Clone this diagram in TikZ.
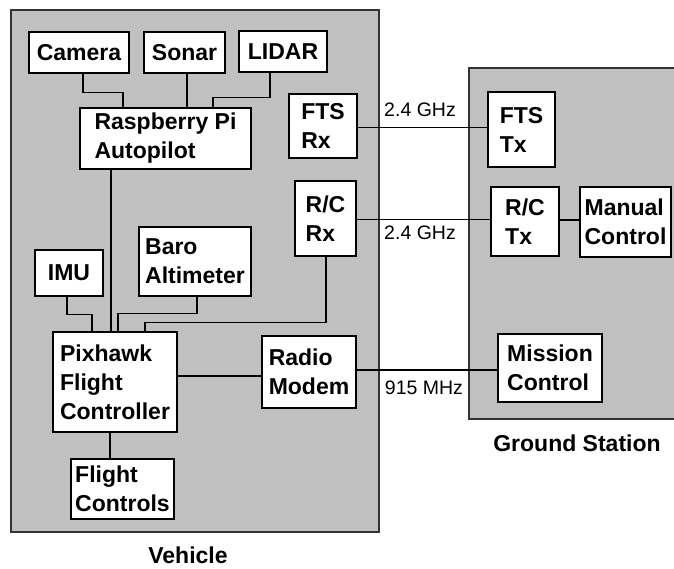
\documentclass[tikz,border=0pt]{standalone}
\usepackage{fontspec}
\setmainfont{Liberation Sans}
\definecolor{panelgray}{RGB}{192,192,192}
\begin{document}
\begin{tikzpicture}[x=1pt,y=-1pt,
  box/.style={draw=black,line width=1.2pt,fill=white,inner sep=0pt,align=left,
    font=\bfseries\fontsize{23}{29}\selectfont},
  panel/.style={draw=black!80,line width=1.2pt,fill=panelgray},
  wire/.style={draw=black,line width=1.1pt},
  freq/.style={font=\fontsize{19.5}{22}\selectfont,inner sep=0pt},
  title/.style={font=\bfseries\fontsize{23}{27}\selectfont,inner sep=0pt}]
\useasboundingbox (0,0) rectangle (674,568);
\begin{scope}
\clip (0,0) rectangle (674,568);
\path[panel] (11,10) rectangle (379,532);
\path[panel] (469,68) rectangle (690,419);
\end{scope}
\node[title] (vehl) at (188,555.5) {Vehicle};
\node[title] (gsl) at (577,443) {Ground Station};

\node[box,minimum width=100pt,minimum height=41pt] (cam) at (79,52.5) {Camera};
\node[box,minimum width=81pt,minimum height=41pt] (sonar) at (184.5,52.5) {Sonar};
\node[box,minimum width=88pt,minimum height=41pt] (lidar) at (283,51.5) {LIDAR};
\node[box,minimum width=171pt,minimum height=61pt] (rpi) at (165.5,138.5) {Raspberry Pi\\Autopilot};
\node[box,minimum width=68pt,minimum height=64pt] (ftsrx) at (323,126) {FTS\\Rx};
\node[box,minimum width=61pt,minimum height=75pt] (rcrx) at (325.5,218.5) {R/C\\Rx};
\node[box,minimum width=112pt,minimum height=69pt] (baro) at (195,261.5) {Baro\\Altimeter};
\node[box,minimum width=68pt,minimum height=46pt] (imu) at (69,273) {IMU};
\node[box,minimum width=124pt,minimum height=100pt] (pix) at (115,382) {Pixhawk\\Flight\\Controller};
\node[box,minimum width=94pt,minimum height=72pt] (modem) at (309,372) {Radio\\Modem};
\node[box,minimum width=103pt,minimum height=60pt] (fc) at (122.5,489) {Flight\\Controls};
\node[box,minimum width=67pt,minimum height=75pt] (ftstx) at (521.5,129.5) {FTS\\Tx};
\node[box,minimum width=68pt,minimum height=69pt] (rctx) at (525,221.5) {R/C\\Tx};
\node[box,minimum width=91pt,minimum height=70pt] (manual) at (625.5,222) {Manual\\Control};
\node[box,minimum width=104pt,minimum height=68pt] (mission) at (550,368) {Mission\\Control};

\draw[wire] ([xshift=4pt]cam.south) -- ++(0,19) -| ([xshift=-42.5pt]rpi.north);
\draw[wire] ([xshift=2.5pt]sonar.south) -- ([xshift=2.5pt]sonar.south |- rpi.north);
\draw[wire] ([xshift=-13pt]lidar.south) -- ++(0,25) -| ([xshift=47.5pt]rpi.north);
\draw[wire] ([xshift=-54.5pt]rpi.south) -- ([xshift=-54.5pt]rpi.south |- pix.north);
\draw[wire] ([xshift=-2pt]imu.south) -- ++(0,18) -| ([xshift=-23pt]pix.north);
\draw[wire] ([xshift=2pt]baro.south) -- ++(0,17) -| ([xshift=3pt]pix.north);
\draw[wire] ([xshift=0.5pt]rcrx.south) -- ++(0,66) -| ([xshift=30pt]pix.north);
\draw[wire] ([yshift=6pt]pix.east) -- ([yshift=6pt]pix.east -| modem.west);
\draw[wire] ([xshift=-5pt]pix.south) -- ([xshift=-5pt]pix.south |- fc.north);
\draw[wire] ([yshift=-1.5pt]ftsrx.east) -- ([yshift=-1.5pt]ftsrx.east -| ftstx.west);
\draw[wire] ([yshift=-1pt]rcrx.east) -- ([yshift=-1pt]rcrx.east -| rctx.west);
\draw[wire] ([yshift=1.5pt]rctx.east) -- ([yshift=1.5pt]rctx.east -| manual.west);
\draw[wire] ([yshift=2pt]modem.east) -- ([yshift=2pt]modem.east -| mission.west);

\node[freq] (f1) at (420,110) {2.4 GHz};
\node[freq] (f2) at (420,233) {2.4 GHz};
\node[freq] (f3) at (424,388) {915 MHz};
\end{tikzpicture}
\end{document}
